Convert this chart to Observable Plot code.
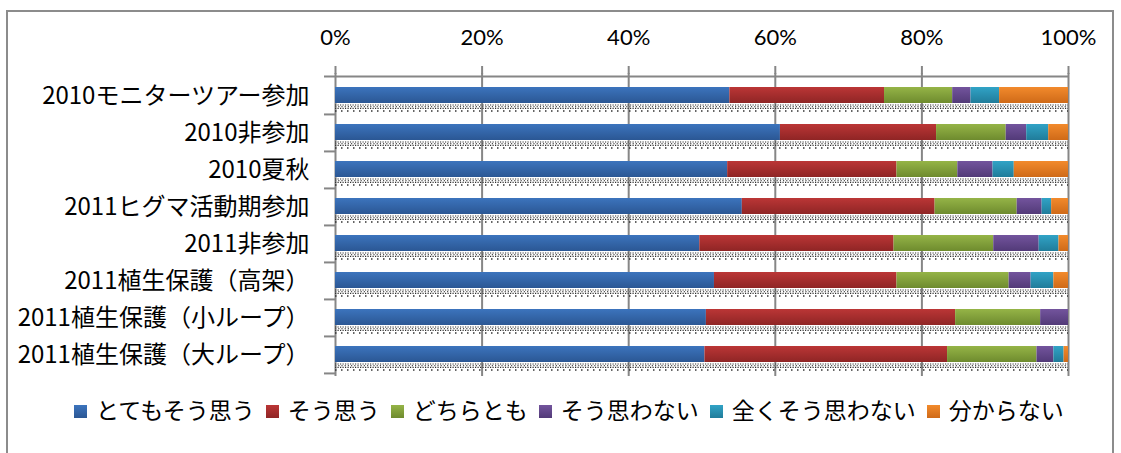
<!DOCTYPE html>
<html><head><meta charset="utf-8">
<script src="https://cdn.jsdelivr.net/npm/d3@7"></script>
<script src="https://cdn.jsdelivr.net/npm/@observablehq/plot@0.6"></script>
<style>
body{margin:0;background:#fff;font-family:"Noto Sans CJK JP",sans-serif;}
#wrap{position:relative;width:1121px;height:453px;overflow:hidden;background:#fff;}
#border{position:absolute;left:6px;top:10px;width:1108px;height:470px;border:2px solid #8c8c8c;box-sizing:border-box;}
#chart{position:absolute;left:0;top:0;}
#legend{position:absolute;left:74px;top:394px;display:flex;align-items:center;font-size:23px;line-height:30px;white-space:nowrap;color:#000;}
.item{display:flex;align-items:center;margin-right:11px}
.sw{width:13px;height:13px;margin-right:9px;margin-top:5px}
</style></head><body>
<div id="wrap"><div id="border"></div><div id="chart"></div><div id="legend"></div></div>
<script>
const categories = ["2010モニターツアー参加","2010非参加","2010夏秋","2011ヒグマ活動期参加","2011非参加","2011植生保護（高架）","2011植生保護（小ループ）","2011植生保護（大ループ）"];
const seriesNames = ["とてもそう思う","そう思う","どちらとも","そう思わない","全くそう思わない","分からない"];
const s1 = [53.8, 60.7, 53.5, 55.5, 49.7, 51.7, 50.6, 50.4];
const s2 = [21.1, 21.3, 23.1, 26.3, 26.5, 24.9, 34.0, 33.1];
const s3 = [9.3, 9.5, 8.3, 11.2, 13.6, 15.3, 11.6, 12.2];
const s4 = [2.5, 2.8, 4.8, 3.4, 6.2, 3.0, 3.8, 2.3];
const s5 = [3.9, 3.0, 2.9, 1.3, 2.7, 3.1, 0, 1.4];
const s6 = [9.4, 2.7, 7.4, 2.3, 1.3, 2.0, 0, 0.6];
const xTicks = [0, 20, 40, 60, 80, 100];
const colorPairs = [["#3c74bd","#2b5794"],["#bb3636","#8f2525"],["#95b447","#6e8b2e"],["#73549d","#523a78"],["#31a3c6","#207c9a"],["#f28a2c","#cf6a18"]];

const seriesValues = [s1, s2, s3, s4, s5, s6];
const data = [];
categories.forEach((c, i) => seriesNames.forEach((s, j) => data.push({category: c, series: s, value: seriesValues[j][i]})));

const W = 1121, H = 385, mt = 73, mb = 9, ml = 335, mr = 53;
const step = (H - mt - mb) / categories.length;
const gray = "#868686";

const plot = Plot.plot({
  width: W, height: H,
  marginTop: mt, marginBottom: mb, marginLeft: ml, marginRight: mr,
  style: {fontFamily: "'Noto Sans CJK JP', sans-serif", color: "#000", background: "transparent", overflow: "visible"},
  x: {domain: [0, 100], label: null},
  y: {domain: categories, label: null, paddingInner: 1 - 16 / step, paddingOuter: (1 - 16 / step) / 2},
  color: {domain: seriesNames, range: seriesNames.map((d, i) => `url(#grad${i})`)},
  marks: [
    Plot.ruleX(xTicks, {stroke: gray, strokeWidth: 2}),
    Plot.ruleY([categories[0]], {x1: -1.5, x2: 100, dy: -step / 2, stroke: gray, strokeWidth: 2}),
    Plot.ruleY(categories, {x1: -1.5, x2: 0, dy: step / 2, stroke: gray, strokeWidth: 2}),
    Plot.ruleY(categories, {x1: 0, x2: 100, dy: 9.5, stroke: "#333", strokeWidth: 1.2, strokeDasharray: "1.2,1.3"}),
    Plot.ruleY(categories, {x1: 0, x2: 100, dy: 11.2, stroke: "#555", strokeWidth: 1.2, strokeDasharray: "1.2,2"}),
    Plot.ruleY(categories, {x1: 0, x2: 100, dy: 12.8, stroke: "#333", strokeWidth: 1.2, strokeDasharray: "1.2,1.3"}),
    Plot.ruleY(categories, {x1: 0, x2: 100, dy: 15.5, stroke: "#333", strokeWidth: 1.5, strokeDasharray: "1.5,4.5"}),
    Plot.barX(data, Plot.stackX({x: "value", y: "category", fill: "series"})),
    Plot.axisX({anchor: "top", ticks: xTicks, label: null, tickSize: 8, tickPadding: 21, stroke: gray, strokeWidth: 2, fill: "#000", fontSize: 22, tickFormat: d => d + "%", fontFamily: "Lato, sans-serif"}),
    Plot.axisY({anchor: "left", label: null, tickSize: 0, tickPadding: 26, fontSize: 24, fill: "#000", dy: 1})
  ]
});

const defs = d3.select(plot).insert("defs", ":first-child");
colorPairs.forEach(([top, bottom], i) => {
  const g = defs.append("linearGradient").attr("id", "grad" + i).attr("x1", 0).attr("y1", 0).attr("x2", 0).attr("y2", 1);
  g.append("stop").attr("offset", "0%").attr("stop-color", top);
  g.append("stop").attr("offset", "100%").attr("stop-color", bottom);
});
document.getElementById("chart").appendChild(plot);

const legend = d3.select("#legend");
seriesNames.forEach((s, i) => {
  const it = legend.append("div").attr("class", "item");
  it.append("div").attr("class", "sw").style("background", `linear-gradient(${colorPairs[i][0]}, ${colorPairs[i][1]})`);
  it.append("span").text(s);
});
</script>
</body></html>
